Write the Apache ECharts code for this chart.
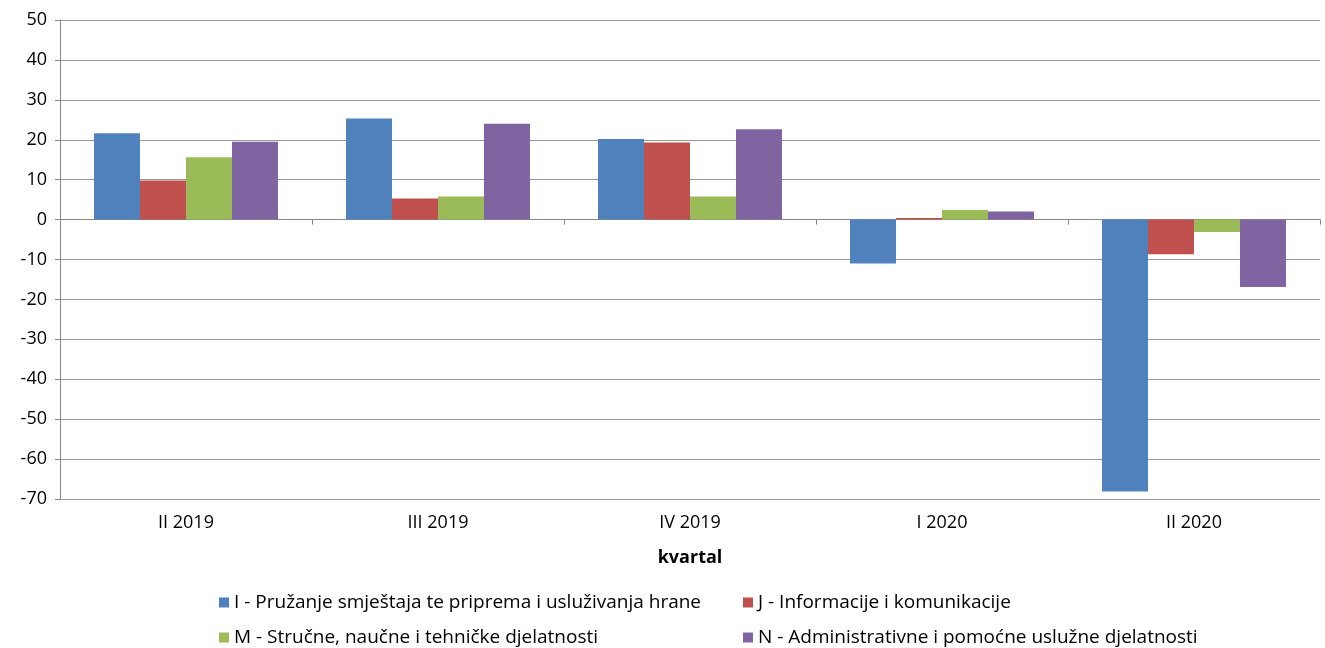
<!DOCTYPE html>
<html><head><meta charset="utf-8">
<script src="https://cdn.jsdelivr.net/npm/echarts@6/dist/echarts.min.js"></script>
<style>html,body{margin:0;padding:0;background:#fff}#c{width:1325px;height:648px}</style>
</head><body><div id="c"></div>
<script>
const categories = ['II 2019','III 2019','IV 2019','I 2020','II 2020'];
const seriesNames = [
  'I - Pružanje smještaja te priprema i usluživanja hrane',
  'J - Informacije i komunikacije',
  'M - Stručne, naučne i tehničke djelatnosti',
  'N - Administrativne i pomoćne uslužne djelatnosti'
];
const valuesI = [21.6, 25.3, 20.2, -11.0, -68.1];
const valuesJ = [9.8, 5.3, 19.3, 0.4, -8.7];
const valuesM = [15.6, 5.8, 5.8, 2.4, -3.1];
const valuesN = [19.5, 24.0, 22.6, 2.0, -16.9];
const colors = ['#4F81BD','#C0504D','#9BBB59','#8064A2'];
const allValues = [valuesI, valuesJ, valuesM, valuesN];

const font = 'Open Sans';
const legendPos = [[214, 588], [738, 588], [214, 623], [738, 623]];
const chart = echarts.init(document.getElementById('c'));
chart.setOption({
  animation: false,
  textStyle: {fontFamily: font},
  grid: {left: 60, right: 5, top: 20, bottom: 149},
  legend: seriesNames.map((n, i) => ({
    data: [n], left: legendPos[i][0], top: legendPos[i][1],
    itemWidth: 10, itemHeight: 10, icon: 'rect', selectedMode: false,
    textStyle: {fontSize: 19, color: '#000', fontFamily: font}
  })),
  xAxis: [
    {type: 'category', data: categories, position: 'bottom',
     axisLine: {show: false, onZero: false}, axisTick: {show: false},
     axisLabel: {fontSize: 18, color: '#000', margin: 15, fontFamily: font},
     name: 'kvartal', nameLocation: 'middle', nameGap: 50,
     nameTextStyle: {fontSize: 18, fontWeight: 'bold', color: '#000', fontFamily: font}},
    {type: 'category', data: categories, position: 'top',
     axisLine: {show: true, onZero: true, lineStyle: {color: '#888', width: 1}},
     axisTick: {show: true, inside: true, length: 5, lineStyle: {color: '#888'}},
     axisLabel: {show: false}}
  ],
  yAxis: {
    type: 'value', min: -70, max: 50, interval: 10,
    axisLine: {show: true, lineStyle: {color: '#888'}},
    axisTick: {show: true, length: 5, lineStyle: {color: '#888'}},
    axisLabel: {fontSize: 18, color: '#000', margin: 13, fontFamily: font},
    splitLine: {lineStyle: {color: '#999', width: 1}}
  },
  series: allValues.map((v, i) => ({
    name: seriesNames[i], type: 'bar', data: v, xAxisIndex: 0,
    barGap: '0%', barCategoryGap: '27%',
    itemStyle: {color: colors[i]}
  }))
});
</script></body></html>
